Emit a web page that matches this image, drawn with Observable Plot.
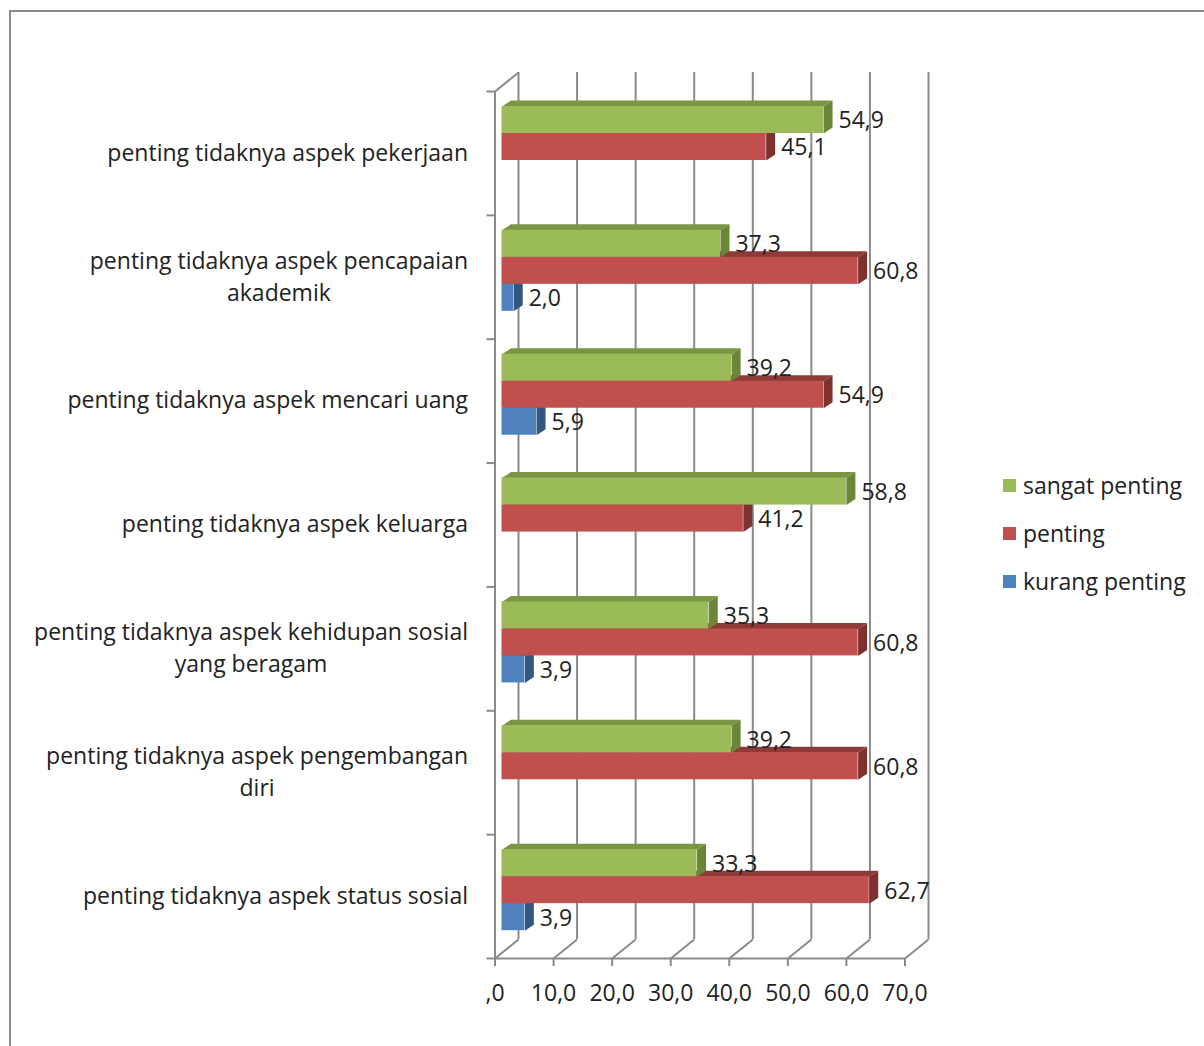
<!DOCTYPE html>
<html>
<head>
<meta charset="utf-8">
<script src="https://cdn.jsdelivr.net/npm/d3@7"></script>
<script src="https://cdn.jsdelivr.net/npm/@observablehq/plot@0.6"></script>
<style>
html, body { margin: 0; padding: 0; background: #fff; overflow: hidden; width: 1204px; height: 1046px; }
#wrap { position: relative; width: 1204px; height: 1046px; }
#frame { position: absolute; left: 9px; top: 10px; width: 1300px; height: 1100px; border: 2px solid #8a8a8a; box-sizing: border-box; }
#chart { position: absolute; left: 0; top: 0; }
#legend { position: absolute; left: 1003px; top: 461px; font-family: "Open Sans", sans-serif; font-size: 23px; color: #222; }
#legend .item { display: flex; align-items: center; height: 48px; white-space: nowrap; }
#legend .sw { width: 13px; height: 13px; margin-right: 7px; }
</style>
</head>
<body>
<div id="wrap">
  <div id="frame"></div>
  <div id="chart"></div>
  <div id="legend"></div>
</div>
<script>
// ---- data ----
const categories = [
  "penting tidaknya aspek pekerjaan",
  "penting tidaknya aspek pencapaian\nakademik",
  "penting tidaknya aspek mencari uang",
  "penting tidaknya aspek keluarga",
  "penting tidaknya aspek kehidupan sosial\nyang beragam",
  "penting tidaknya aspek pengembangan\ndiri",
  "penting tidaknya aspek status sosial"
];
const seriesNames = ["sangat penting", "penting", "kurang penting"];
const sangatPenting = [54.9, 37.3, 39.2, 58.8, 35.3, 39.2, 33.3];
const penting = [45.1, 60.8, 54.9, 41.2, 60.8, 60.8, 62.7];
const kurangPenting = [null, 2.0, 5.9, null, 3.9, null, 3.9];
const xTicks = [0, 10, 20, 30, 40, 50, 60, 70];
const xTickLabels = [",0", "10,0", "20,0", "30,0", "40,0", "50,0", "60,0", "70,0"];

// ---- styling / layout ----
const seriesFront = ["#9BBB59", "#C0504D", "#4F81BD"];
const seriesTop = ["#7A9645", "#8E3A38", "#3E6696"];
const seriesSide = ["#6B8539", "#7E3230", "#345780"];
const gridColor = "#8a8a8a";
const textColor = "#222";
const FONT = "'Open Sans', sans-serif";
const FS = 23;

const X0 = 494.5, X1 = 904.5, Y0 = 91, Y1 = 958;
const xMax = 70, nCat = categories.length;
const kx = (X1 - X0) / xMax, ky = (Y1 - Y0) / nCat;
const wallDX = 23.5, wallDY = -19;       // depth of the 3D box (px)
const barShift = 7;                      // bar plane offset (px)
const barDX = 9, barDY = -6;             // bar depth (px)
const barOffset = 15, barH = 27;         // within a category (px)
const tickLen = 8;

const wx = wallDX / kx, wy = wallDY / ky;
const bx = barDX / kx, by = barDY / ky;

const allSeries = [sangatPenting, penting, kurangPenting];
const fmt = d3.formatLocale({decimal: ",", thousands: "."}).format(".1f");

// bar rows
const rows = [];
allSeries.forEach((vals, s) => {
  vals.forEach((v, i) => {
    if (v == null) return;
    const y1 = i + (barOffset + barH * s) / ky;
    const y2 = y1 + barH / ky;
    rows.push({s, i, v, y1, y2, id: s + "-" + i});
  });
});

const marks = [];
// back wall gridlines
marks.push(Plot.ruleX(xTicks, {x: d => d, y1: 0, y2: nCat, dx: wallDX, dy: wallDY, stroke: gridColor, strokeWidth: 2}));
// floor diagonals
marks.push(Plot.link(xTicks, {x1: d => d, y1: nCat, x2: d => d + wx, y2: nCat + wy, stroke: gridColor, strokeWidth: 2}));
// left wall top diagonal
marks.push(Plot.link([0], {x1: 0, y1: 0, x2: wx, y2: wy, stroke: gridColor, strokeWidth: 2}));
// front axes
marks.push(Plot.ruleX([0], {x: d => d, y1: 0, y2: nCat, stroke: gridColor, strokeWidth: 2}));
marks.push(Plot.ruleY([nCat], {y: d => d, x1: 0, x2: xMax, stroke: gridColor, strokeWidth: 2}));
// ticks
marks.push(Plot.ruleX(xTicks, {x: d => d, y1: nCat, y2: nCat + tickLen / ky, stroke: gridColor, strokeWidth: 2}));
marks.push(Plot.ruleY(d3.range(nCat + 1), {y: d => d, x1: -tickLen / kx, x2: 0, stroke: gridColor, strokeWidth: 2}));

// bars: bottom series first so upper bars overlap
[2, 1, 0].forEach(s => {
  const r = rows.filter(d => d.s === s);
  const topPts = r.flatMap(d => [
    {id: d.id, x: 0, y: d.y1}, {id: d.id, x: d.v, y: d.y1},
    {id: d.id, x: d.v + bx, y: d.y1 + by}, {id: d.id, x: bx, y: d.y1 + by}
  ]);
  const sidePts = r.flatMap(d => [
    {id: d.id, x: d.v, y: d.y1}, {id: d.id, x: d.v + bx, y: d.y1 + by},
    {id: d.id, x: d.v + bx, y: d.y2 + by}, {id: d.id, x: d.v, y: d.y2}
  ]);
  marks.push(Plot.line(topPts, {x: "x", y: "y", z: "id", fill: seriesTop[s], stroke: "none", curve: "linear-closed", dx: barShift}));
  marks.push(Plot.line(sidePts, {x: "x", y: "y", z: "id", fill: seriesSide[s], stroke: "none", curve: "linear-closed", dx: barShift}));
  marks.push(Plot.rect(r, {x1: 0, x2: "v", y1: "y1", y2: "y2", fill: seriesFront[s], dx: barShift}));
});

// value labels
marks.push(Plot.text(rows, {x: "v", y: d => (d.y1 + d.y2) / 2, text: d => fmt(d.v), dx: 22, dy: 1,
  textAnchor: "start", fontSize: FS, fontFamily: FONT, fill: textColor}));

// x tick labels
marks.push(Plot.text(xTicks, {x: d => d, y: nCat, text: (d, i) => xTickLabels[i], dy: 35,
  textAnchor: "middle", fontSize: FS, fontFamily: FONT, fill: textColor}));

// category labels (block right-aligned, lines centered)
const ctx = document.createElement("canvas").getContext("2d");
ctx.font = `${FS}px ${FONT}`;
categories.forEach((c, i) => {
  const w = Math.max(...c.split("\n").map(l => ctx.measureText(l).width));
  marks.push(Plot.text([c], {x: 0, y: i + 0.5, text: d => d, dx: -27 - w / 2, dy: -3, textAnchor: "middle",
    lineHeight: 1.4, fontSize: FS, fontFamily: FONT, fill: textColor}));
});

const chart = Plot.plot({
  width: 1204,
  height: 1046,
  x: {domain: [0, xMax], range: [X0, X1], axis: null},
  y: {domain: [0, nCat], range: [Y0, Y1], axis: null},
  style: {background: "transparent", fontFamily: FONT, fontSize: FS + "px", overflow: "visible"},
  marks
});
document.getElementById("chart").appendChild(chart);

// legend
const lg = document.getElementById("legend");
seriesNames.forEach((n, s) => {
  const it = document.createElement("div");
  it.className = "item";
  it.innerHTML = `<div class="sw" style="background:${seriesFront[s]}"></div><span>${n}</span>`;
  lg.appendChild(it);
});
</script>
</body>
</html>
